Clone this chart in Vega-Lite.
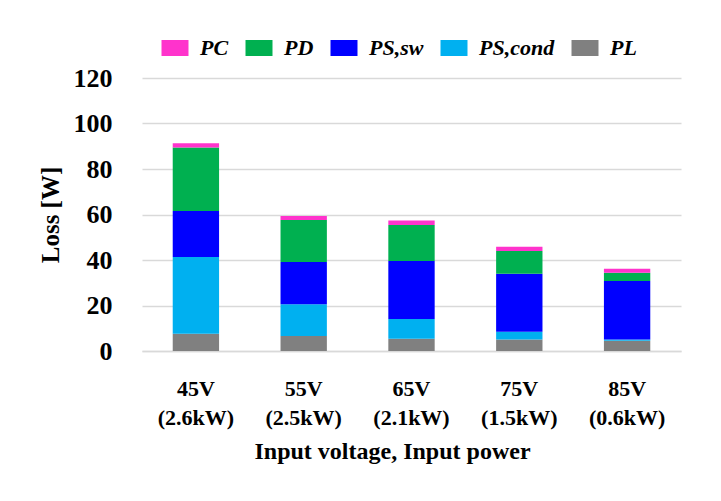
{
  "$schema": "https://vega.github.io/schema/vega-lite/v6.json",
  "width": 539, "height": 273,
  "autosize": {"type": "none"},
  "padding": {"left": 142, "top": 78, "right": 40, "bottom": 150},
  "background": "white",
  "config": {
    "view": {"stroke": null},
    "font": "Liberation Serif"
  },
  "data": {
    "values": [
      {"input": "45V|(2.6kW)", "part": "PL", "rank": 1, "loss": 7.6},
      {"input": "45V|(2.6kW)", "part": "PS,cond", "rank": 2, "loss": 33.7},
      {"input": "45V|(2.6kW)", "part": "PS,sw", "rank": 3, "loss": 20.2},
      {"input": "45V|(2.6kW)", "part": "PD", "rank": 4, "loss": 27.9},
      {"input": "45V|(2.6kW)", "part": "PC", "rank": 5, "loss": 1.9},
      {"input": "55V|(2.5kW)", "part": "PL", "rank": 1, "loss": 6.6},
      {"input": "55V|(2.5kW)", "part": "PS,cond", "rank": 2, "loss": 13.9},
      {"input": "55V|(2.5kW)", "part": "PS,sw", "rank": 3, "loss": 18.6},
      {"input": "55V|(2.5kW)", "part": "PD", "rank": 4, "loss": 18.5},
      {"input": "55V|(2.5kW)", "part": "PC", "rank": 5, "loss": 1.7},
      {"input": "65V|(2.1kW)", "part": "PL", "rank": 1, "loss": 5.4},
      {"input": "65V|(2.1kW)", "part": "PS,cond", "rank": 2, "loss": 8.7},
      {"input": "65V|(2.1kW)", "part": "PS,sw", "rank": 3, "loss": 25.5},
      {"input": "65V|(2.1kW)", "part": "PD", "rank": 4, "loss": 15.8},
      {"input": "65V|(2.1kW)", "part": "PC", "rank": 5, "loss": 2.0},
      {"input": "75V|(1.5kW)", "part": "PL", "rank": 1, "loss": 5.1},
      {"input": "75V|(1.5kW)", "part": "PS,cond", "rank": 2, "loss": 3.4},
      {"input": "75V|(1.5kW)", "part": "PS,sw", "rank": 3, "loss": 25.5},
      {"input": "75V|(1.5kW)", "part": "PD", "rank": 4, "loss": 10.0},
      {"input": "75V|(1.5kW)", "part": "PC", "rank": 5, "loss": 1.8},
      {"input": "85V|(0.6kW)", "part": "PL", "rank": 1, "loss": 4.5},
      {"input": "85V|(0.6kW)", "part": "PS,cond", "rank": 2, "loss": 0.6},
      {"input": "85V|(0.6kW)", "part": "PS,sw", "rank": 3, "loss": 25.7},
      {"input": "85V|(0.6kW)", "part": "PD", "rank": 4, "loss": 3.6},
      {"input": "85V|(0.6kW)", "part": "PC", "rank": 5, "loss": 1.8}
    ]
  },
  "mark": {"type": "bar"},
  "encoding": {
    "x": {
      "field": "input",
      "type": "nominal",
      "sort": null,
      "title": "Input voltage, Input power",
      "scale": {"paddingInner": 0.57, "paddingOuter": 0.285},
      "axis": {
        "labelAngle": 0,
        "labelExpr": "split(datum.label, '|')",
        "labelFont": "Liberation Serif", "labelFontWeight": "bold",
        "labelFontSize": 22, "labelLineHeight": 29, "labelColor": "black",
        "labelPadding": 27, "ticks": false,
        "domainColor": "#d9d9d9", "domainWidth": 1.5,
        "titleFont": "Liberation Serif", "titleFontWeight": "bold",
        "titleFontSize": 24, "titleColor": "black", "titlePadding": 11,
        "titleX": 250
      }
    },
    "y": {
      "field": "loss",
      "type": "quantitative",
      "title": "Loss [W]",
      "stack": "zero",
      "scale": {"domain": [0, 120], "nice": false},
      "axis": {
        "values": [0, 20, 40, 60, 80, 100, 120],
        "domain": false, "ticks": false,
        "gridColor": "#d9d9d9", "gridWidth": 1.3,
        "labelFont": "Liberation Serif", "labelFontWeight": "bold",
        "labelFontSize": 26, "labelColor": "black", "labelPadding": 30,
        "titleFont": "Liberation Serif", "titleFontWeight": "bold",
        "titleFontSize": 25, "titleColor": "black", "titlePadding": 10
      }
    },
    "color": {
      "field": "part",
      "type": "nominal",
      "scale": {
        "domain": ["PC", "PD", "PS,sw", "PS,cond", "PL"],
        "range": ["#ff33cc", "#00b050", "#0000ff", "#00b0f0", "#808080"]
      },
      "legend": {
        "title": null,
        "orient": "none",
        "direction": "horizontal",
        "legendX": 22, "legendY": -41,
        "symbolType": "M-1.35,-0.8H1.35V0.8H-1.35Z",
        "symbolSize": 400, "symbolStrokeWidth": 0, "symbolOpacity": 1,
        "labelFont": "Liberation Serif", "labelFontWeight": "bold",
        "labelFontStyle": "italic", "labelFontSize": 22, "labelColor": "black",
        "labelOffset": 14, "columnPadding": 16
      }
    },
    "order": {"field": "rank", "type": "quantitative"}
  }
}
